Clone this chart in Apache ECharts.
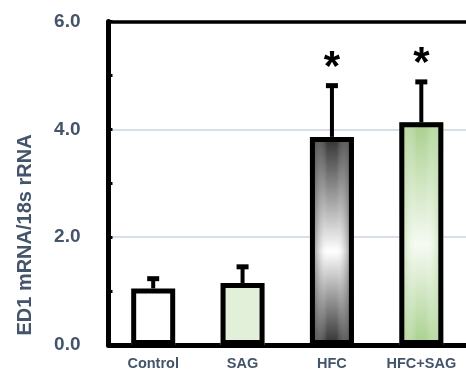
<!DOCTYPE html>
<html>
<head>
<meta charset="utf-8">
<script src="https://cdn.jsdelivr.net/npm/echarts@6/dist/echarts.min.js"></script>
<style>
  html, body { margin: 0; padding: 0; background: #fff; }
  #chart { width: 466px; height: 371px; }
</style>
</head>
<body>
<div id="chart"></div>
<script>
// ED1 expression per group: mean and standard error
const categories = ['Control', 'SAG', 'HFC', 'HFC+SAG'];
const means = [1.05, 1.15, 3.86, 4.13];
const sems = [0.18, 0.30, 0.95, 0.75];
const marks = ['', '', '*', '*'];
const yTicks = [0, 2, 4, 6];

const TEXT = '#44546A';
const FONT = 'Liberation Sans, Arial, sans-serif';

function vGrad(edge, mid) {
  return {
    type: 'linear', x: 0, y: 0, x2: 0, y2: 1,
    colorStops: [
      { offset: 0, color: edge },
      { offset: 0.55, color: mid },
      { offset: 1, color: edge }
    ]
  };
}
function hGrad(edge) {
  return {
    type: 'linear', x: 0, y: 0, x2: 1, y2: 0,
    colorStops: [
      { offset: 0, color: edge },
      { offset: 0.4, color: 'rgba(255,255,255,0)' },
      { offset: 0.6, color: 'rgba(255,255,255,0)' },
      { offset: 1, color: edge }
    ]
  };
}

const baseFills = [
  '#ffffff',
  '#e2efd9',
  vGrad('#303030', '#ffffff'),
  vGrad('#a9d08e', '#f6faf3')
];
const overlayFills = [
  'rgba(0,0,0,0)',
  'rgba(0,0,0,0)',
  hGrad('rgba(50,50,50,0.8)'),
  hGrad('rgba(169,208,142,0.8)')
];

const chart = echarts.init(document.getElementById('chart'));

chart.setOption({
  animation: false,
  grid: { left: 108.5, right: -2, top: 21.5, bottom: 25.5, containLabel: false },
  xAxis: [{
    type: 'category',
    data: categories,
    axisLine: { lineStyle: { color: '#000', width: 5 } },
    axisTick: { show: false },
    axisLabel: {
      interval: 0, hideOverlap: false,
      color: TEXT, fontFamily: FONT, fontWeight: 'bold', fontSize: 14.5, margin: 11
    }
  }, {
    type: 'category',
    position: 'top',
    data: categories,
    axisLine: { lineStyle: { color: '#000', width: 3.5 } },
    axisTick: { show: false },
    axisLabel: { show: false }
  }],
  yAxis: {
    type: 'value',
    min: yTicks[0],
    max: yTicks[yTicks.length - 1],
    interval: 2,
    axisLine: { show: true, lineStyle: { color: '#000', width: 5 } },
    axisTick: { show: true, inside: true, length: 4, lineStyle: { color: '#000', width: 3 } },
    minorTick: { show: true, splitNumber: 2, length: 4, lineStyle: { color: '#000', width: 3 } },
    splitLine: { show: true, lineStyle: { color: '#d9dfe8', width: 2 } },
    axisLabel: {
      color: TEXT, fontFamily: FONT, fontWeight: 'bold', fontSize: 19, margin: 28,
      formatter: v => v.toFixed(1)
    }
  },
  graphic: [{
    type: 'text',
    x: 25, y: 235,
    rotation: Math.PI / 2,
    style: {
      text: 'ED1 mRNA/18s rRNA',
      fill: TEXT,
      font: 'bold 20px ' + FONT,
      textAlign: 'center',
      textVerticalAlign: 'middle'
    }
  }],
  series: [{
    type: 'bar',
    barWidth: 44,
    z: 2,
    data: means.map((v, i) => ({ value: v, itemStyle: { color: baseFills[i] } }))
  }, {
    type: 'bar',
    barWidth: 44,
    barGap: '-100%',
    z: 3,
    data: means.map((v, i) => ({
      value: v,
      itemStyle: { color: overlayFills[i], borderColor: '#000', borderWidth: 5 }
    }))
  }, {
    type: 'custom',
    z: 4,
    data: means.map((v, i) => [i, v, sems[i]]),
    renderItem: function (params, api) {
      const i = api.value(0);
      const top = api.coord([i, api.value(1)]);
      const upper = api.coord([i, api.value(1) + api.value(2)]);
      const cx = top[0];
      const children = [{
        type: 'line',
        shape: { x1: cx, y1: top[1], x2: cx, y2: upper[1] },
        style: { stroke: '#000', lineWidth: 4 }
      }, {
        type: 'line',
        shape: { x1: cx - 6, y1: upper[1], x2: cx + 6, y2: upper[1] },
        style: { stroke: '#000', lineWidth: 5 }
      }];
      const mark = marks[params.dataIndex];
      if (mark) {
        children.push({
          type: 'text',
          x: cx, y: upper[1] + 4,
          style: {
            text: mark,
            fill: '#000',
            font: 'bold 42px ' + FONT,
            textAlign: 'center',
            textVerticalAlign: 'bottom'
          }
        });
      }
      return { type: 'group', children: children };
    }
  }]
});
</script>
</body>
</html>
